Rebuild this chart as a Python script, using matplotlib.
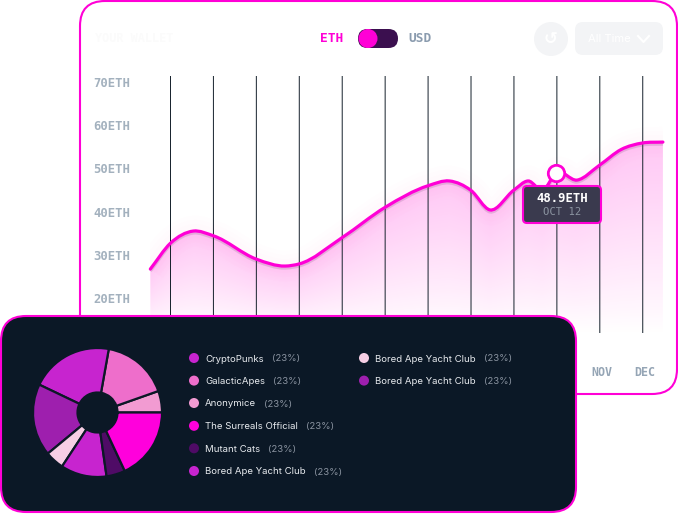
import numpy as np
import matplotlib
matplotlib.use("Agg")
import matplotlib.pyplot as plt
from matplotlib.patches import FancyBboxPatch, Circle, PathPatch
from matplotlib.path import Path
from matplotlib.transforms import ScaledTranslation

# line chart data, x is month position (0 = JAN)
months = ["JAN", "FEB", "MAR", "APR", "MAY", "JUN", "JUL", "AUG", "SEP", "OCT", "NOV", "DEC"]
eth_ticks = [20, 30, 40, 50, 60, 70]
line_x = [-0.47, 0, 0.53, 1, 2, 2.67, 3, 4, 5, 6, 6.5, 7, 7.44, 8, 8.33, 8.68, 8.98, 9.47, 10, 10.5, 11, 11.47]
line_eth = [26.7, 32.7, 35.5, 34.4, 29.0, 27.4, 27.9, 34.0, 41.0, 46.0, 47.1, 44.9, 40.4, 45.0, 47.1, 45.0, 48.9, 47.3,
            50.8, 54.4, 55.9, 56.1]
marker_x = 8.98
marker_eth = 48.9

# donut data, counter clockwise from 3 o'clock
pie_values = [5.4, 16.8, 20.7, 18.1, 4.75, 11.5, 4.7, 18.05]
pie_colors = ["#F29BD2", "#EE6ECB", "#C724CF", "#9E1FAE", "#F7CFE5", "#C724CF", "#4F0B66", "#FF00DC"]

legend_names = ["CryptoPunks", "GalacticApes", "Anonymice", "The Surreals Official", "Mutant Cats",
                "Bored Ape Yacht Club", "Bored Ape Yacht Club", "Bored Ape Yacht Club"]
legend_pcts = ["(23%)"] * 8
legend_colors = ["#C724CF", "#EE6ECB", "#F29BD2", "#FF00DC", "#4F0B66", "#C724CF", "#F7CFE5", "#9E1FAE"]

PINK = "#FF00D6"
DARK = "#0B1826"
GREY = "#95A5B5"
MONO = "DejaVu Sans Mono"
W, H = 678, 514


def px_axes(left, top, right, bottom, **kw):
    return fig.add_axes([left / W, 1 - bottom / H, (right - left) / W, (bottom - top) / H], **kw)


def smooth_path(xs, ys):
    # hermite through the read points, slopes from the neighbours, as bezier segments
    xs = np.asarray(xs, float)
    ys = np.asarray(ys, float)
    slope = np.gradient(ys, xs)
    verts = [(xs[0], ys[0])]
    codes = [Path.MOVETO]
    for i in range(len(xs) - 1):
        dx = (xs[i + 1] - xs[i]) / 3
        verts += [(xs[i] + dx, ys[i] + slope[i] * dx),
                  (xs[i + 1] - dx, ys[i + 1] - slope[i + 1] * dx),
                  (xs[i + 1], ys[i + 1])]
        codes += [Path.CURVE4] * 3
    return Path(verts, codes)


fig = plt.figure(figsize=(W / 100, H / 100), dpi=100)
fig.patch.set_facecolor("white")

# back layer: white card and header
bg = px_axes(0, 0, W, H, zorder=0)
bg.set_xlim(0, W)
bg.set_ylim(H, 0)
bg.axis("off")
bg.add_patch(FancyBboxPatch((80, 1), 597, 393, boxstyle="round,pad=0,rounding_size=25",
                            fc="white", ec=PINK, lw=1.5))
bg.text(95, 38, "YOUR WALLET", color="#FBFBFB", fontsize=8.5, family=MONO, weight="bold", va="center")
bg.text(320, 38.5, "ETH", color=PINK, fontsize=9.3, family=MONO, weight="bold", va="center")
bg.text(408, 38.5, "USD", color="#8A9BAE", fontsize=9.3, family=MONO, weight="bold", va="center")
bg.add_patch(FancyBboxPatch((358, 29), 40, 19, boxstyle="round,pad=0,rounding_size=9.5", fc="#3B0F4F", ec="none"))
bg.add_patch(Circle((368, 38.5), 9.5, fc=PINK, ec="none"))
bg.add_patch(Circle((551, 39), 17, fc="#F3F4F6", ec="none"))
bg.text(551, 39, "\u21BA", color="white", fontsize=12, ha="center", va="center", weight="bold")
bg.add_patch(FancyBboxPatch((575, 22), 88, 33, boxstyle="round,pad=0,rounding_size=8", fc="#F3F4F6", ec="none"))
bg.text(588, 39, "All Time", color="white", fontsize=8.1, family="Inter", va="center")
bg.plot([638, 643.5, 649], [36, 42, 36], color="white", lw=1.5)

# line chart
ax = px_axes(150, 76, 663, 333, zorder=1)
ax.patch.set_alpha(0)
for s in ax.spines.values():
    s.set_visible(False)
xlim = (-0.4775, 11.472)
ylim = (11.9, 71.4)

curve = smooth_path(line_x, line_eth)
fill_verts = list(curve.vertices) + [(line_x[-1], ylim[0]), (line_x[0], ylim[0]), (line_x[0], line_eth[0])]
fill_codes = list(curve.codes) + [Path.LINETO, Path.LINETO, Path.CLOSEPOLY]
fill = PathPatch(Path(fill_verts, fill_codes), transform=ax.transData, fc="none", ec="none")
ax.add_patch(fill)

# gradient under the curve
gx = np.linspace(xlim[0], xlim[1], 300)
gy = np.linspace(ylim[0], ylim[1], 300)
top = np.interp(gx, line_x, line_eth)
xx, yy = np.meshgrid(gx, gy)
t = np.clip((yy - ylim[0]) / (top[None, :] - ylim[0]), 0, 1)
rgba = np.zeros((300, 300, 4))
rgba[..., 0] = 1.0
rgba[..., 1] = 0.55
rgba[..., 2] = 0.92
rgba[..., 3] = 0.48 * t ** 0.9
img = ax.imshow(rgba, extent=(xlim[0], xlim[1], ylim[0], ylim[1]), origin="lower", aspect="auto", zorder=1)
img.set_clip_path(fill)

# soft glow and shadow on the curve
for lw in [22, 16, 10]:
    ax.add_patch(PathPatch(curve, fc="none", ec="#FF80EA", lw=lw, alpha=0.016, zorder=1.2, capstyle="butt"))
shadow = Path(curve.vertices - np.array([0, 0.45]), curve.codes)
ax.add_patch(PathPatch(shadow, fc="none", ec="#704070", lw=2.4, alpha=0.18, zorder=2.8))
ax.add_patch(PathPatch(curve, fc="none", ec=PINK, lw=2.3, zorder=3, capstyle="round", clip_on=False))

ax.set_xlim(*xlim)
ax.set_ylim(*ylim)
ax.set_xticks(range(len(months)))
ax.set_xticklabels(months, family=MONO, weight="bold", fontsize=8.4, color=GREY)
ax.set_yticks(eth_ticks)
ax.set_yticklabels([f"{v}ETH" for v in eth_ticks], family=MONO, weight="bold", fontsize=8.8, color="#A3B1BE")
ax.tick_params(axis="x", length=0, pad=23.5)
ax.tick_params(axis="y", length=0, pad=14)
ax.grid(axis="x", color="#1A2530", lw=0.72, snap=False)
for lab in ax.get_xticklabels():
    lab.set_transform(lab.get_transform() + ScaledTranslation(2.5 / 100, 0, fig.dpi_scale_trans))
ax.plot([marker_x], [marker_eth], "o", ms=11.8, mfc="white", mec=PINK, mew=2, zorder=4)

# top layer: tooltip and dark card
fg = px_axes(0, 0, W, H, zorder=2)
fg.patch.set_alpha(0)
fg.set_xlim(0, W)
fg.set_ylim(H, 0)
fg.axis("off")
fg.add_patch(FancyBboxPatch((523, 186), 78, 37, boxstyle="round,pad=0,rounding_size=4", fc="#3A3A4E", ec=PINK, lw=1.5))
fg.text(562.5, 199, "48.9ETH", color="white", fontsize=8.8, family=MONO, weight="bold", ha="center", va="center")
fg.text(562.5, 212, "OCT 12", color="#8A93A0", fontsize=7.6, family=MONO, ha="center", va="center")
fg.add_patch(FancyBboxPatch((1, 316), 575, 196, boxstyle="round,pad=0,rounding_size=25", fc=DARK, ec=PINK, lw=1.5))

dot_x = [194] * 6 + [364] * 2
row_y = [358, 380.6, 403, 425.8, 448.3, 471, 358, 380.6]
renderer = fig.canvas.get_renderer()
for name, pct, col, dx, y in zip(legend_names, legend_pcts, legend_colors, dot_x, row_y):
    fg.add_patch(Circle((dx, y), 5, fc=col, ec="none"))
    t_name = fg.text(dx + 11, y + 3.5, name, color="#E8EBEF", fontsize=6.9, family="Inter", va="baseline")
    # percent follows the end of the name, fg data units are pixels
    end_x = t_name.get_window_extent(renderer).x1
    fg.text(end_x + 8, y + 3.5, pct, color="#8A93A0", fontsize=6.9, family="Inter", va="baseline")

# donut
pie_ax = px_axes(33, 348, 162, 477, zorder=3)
pie_ax.pie(pie_values, colors=pie_colors, startangle=0, counterclock=True, radius=1,
           wedgeprops=dict(width=0.69, edgecolor=DARK, linewidth=1.6, joinstyle="round"))
pie_ax.set_xlim(-1, 1)
pie_ax.set_ylim(-1, 1)

fig.savefig("out.png", dpi=100)
